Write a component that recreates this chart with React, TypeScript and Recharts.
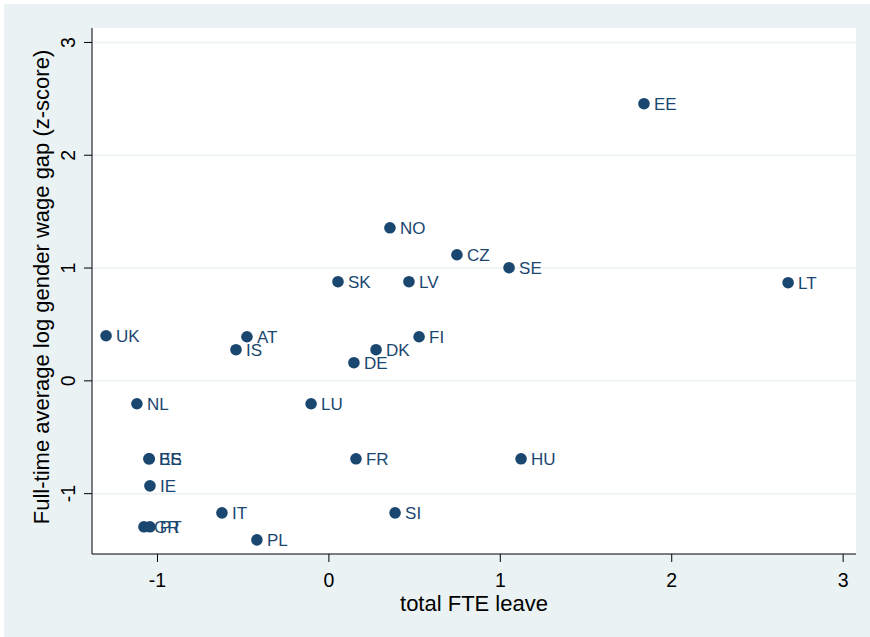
import React from 'react';
import { ScatterChart, Scatter, XAxis, YAxis, CartesianGrid } from 'recharts';

const countries = ['EE','NO','CZ','SE','LT','SK','LV','UK','AT','IS','DK','FI','DE','NL','LU','BE','ES','FR','HU','IE','IT','SI','GR','PT','PL'];
const fteLeave = [1.838,0.356,0.747,1.051,2.679,0.053,0.467,-1.300,-0.478,-0.542,0.275,0.526,0.146,-1.120,-0.104,-1.050,-1.048,0.158,1.121,-1.044,-0.624,0.386,-1.079,-1.044,-0.420];
const wageGap = [2.457,1.357,1.118,1.003,0.870,0.879,0.879,0.400,0.391,0.276,0.276,0.391,0.161,-0.203,-0.203,-0.691,-0.691,-0.691,-0.691,-0.931,-1.170,-1.170,-1.294,-1.294,-1.410];
const xTicks = [-1, 0, 1, 2, 3];
const yTicks = [-1, 0, 1, 2, 3];

const data = countries.map((c, i) => ({ code: c, x: fteLeave[i], y: wageGap[i] }));

const FONT = '"Liberation Sans", Arial, sans-serif';
const NAVY = '#1a476f';
const BG = '#eaf2f3';

const Dot = (props: any) => {
  const { cx, cy, payload } = props;
  return (
    <g>
      <circle cx={cx} cy={cy} r={5.8} fill={NAVY} />
      <text x={cx + 10} y={cy + 6} fontSize={17} fill={NAVY} fontFamily={FONT}>{payload.code}</text>
    </g>
  );
};

const XTick = (props: any) => {
  const { x, y, payload } = props;
  return (
    <text x={x} y={y + 25} textAnchor="middle" fontSize={19.5} fill="#000" fontFamily={FONT}>{payload.value}</text>
  );
};

const YTick = (props: any) => {
  const { x, y, payload } = props;
  return (
    <text x={x} y={y} transform={`rotate(-90 ${x} ${y})`} textAnchor="middle" fontSize={19.5} fill="#000" fontFamily={FONT}>{payload.value}</text>
  );
};

export default function App() {
  return (
    <div style={{ position: 'absolute', left: 0, top: 0, width: 870, height: 637, background: '#fff' }}>
      <div style={{ position: 'absolute', left: 4, top: 4, width: 866, height: 633, background: BG }} />
      <div style={{ position: 'absolute', left: 0, top: 0 }}>
        <ScatterChart width={870} height={637} margin={{ top: 28, right: 14, bottom: 23, left: 0 }}>
          <CartesianGrid fill="#ffffff" stroke={BG} strokeWidth={1.5} vertical={false} horizontalValues={yTicks} />
          <XAxis
            type="number"
            dataKey="x"
            domain={[-1.382, 3.075]}
            ticks={xTicks}
            allowDataOverflow
            height={60}
            tickSize={8}
            tickMargin={0}
            axisLine={{ stroke: '#000', strokeWidth: 1 }}
            tickLine={{ stroke: '#000', strokeWidth: 1 }}
            tick={<XTick />}
            label={(p: any) => null}
          />
          <YAxis
            type="number"
            dataKey="y"
            domain={[-1.535, 3.128]}
            ticks={yTicks}
            allowDataOverflow
            width={92}
            tickSize={8}
            tickMargin={9}
            axisLine={{ stroke: '#000', strokeWidth: 1 }}
            tickLine={{ stroke: '#000', strokeWidth: 1 }}
            tick={<YTick />}
          />
          <Scatter data={data} isAnimationActive={false} shape={<Dot />} />
          <text x={474} y={611} textAnchor="middle" fontSize={22} fill="#000" fontFamily={FONT}>total FTE leave</text>
          <text x={49} y={287} transform="rotate(-90 49 287)" textAnchor="middle" fontSize={22} fill="#000" fontFamily={FONT}>Full-time average log gender wage gap (z-score)</text>
        </ScatterChart>
      </div>
    </div>
  );
}
